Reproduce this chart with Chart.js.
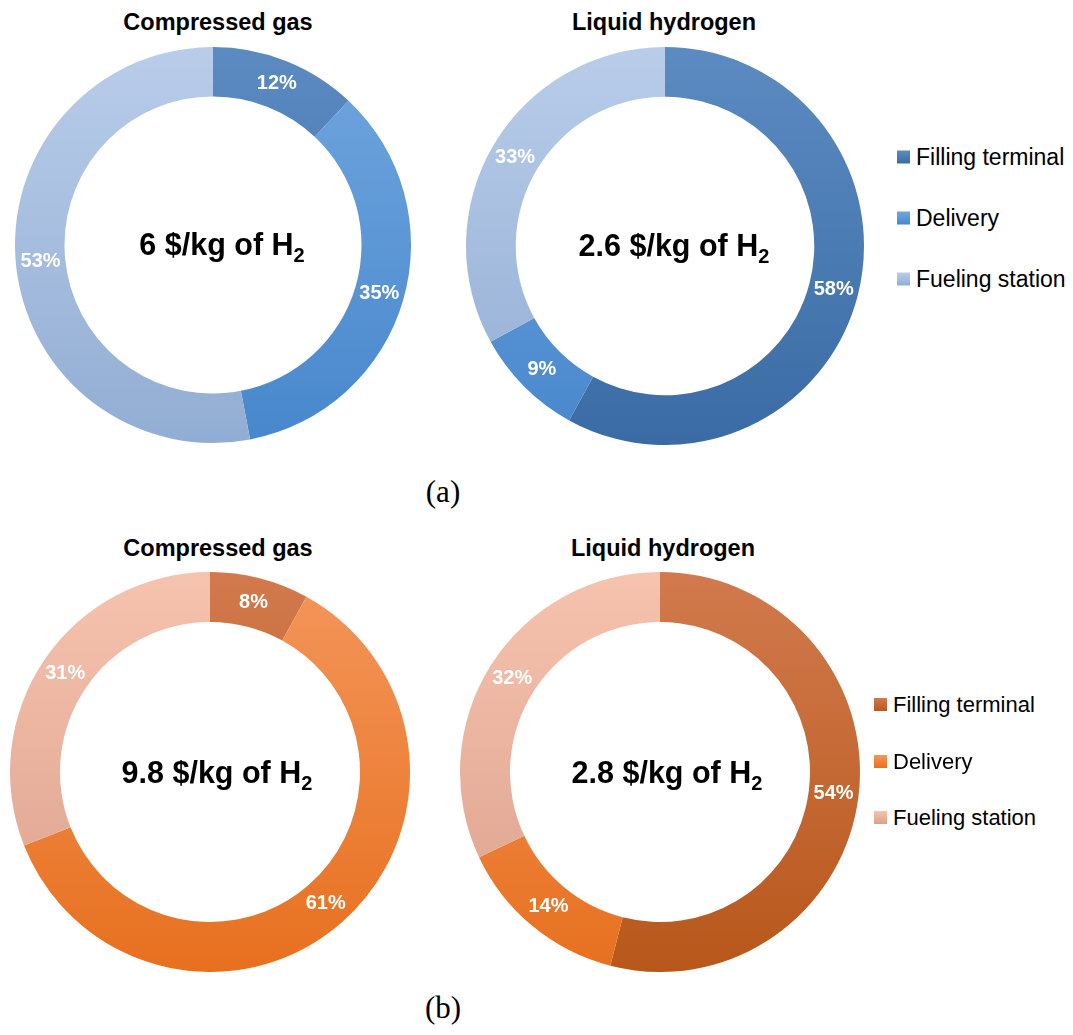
<!DOCTYPE html>
<html>
<head>
<meta charset="utf-8">
<script src="https://cdn.jsdelivr.net/npm/chart.js@4"></script>
<style>
  html, body { margin: 0; padding: 0; background: #fff; }
  #page { position: relative; width: 1073px; height: 1035px; font-family: "Liberation Sans", Arial, sans-serif; }
  .ring { position: absolute; }
  .t { position: absolute; transform: translate(-50%, -50%); white-space: nowrap; color: #000; }
  .title { font-weight: bold; font-size: 23.5px; }
  .center { font-weight: bold; font-size: 30.5px; }
  .center sub { font-size: 20px; vertical-align: -7px; line-height: 0; }
  .panel { font-family: "Liberation Serif", "Times New Roman", serif; font-size: 31px; }
  .legend { position: absolute; color: #000; }
  .legend .row { position: absolute; left: 0; white-space: nowrap; transform: translateY(-50%); }
  .legend .sw { display: inline-block; width: 13px; height: 13px; margin-right: 6px; vertical-align: 1px; }
</style>
</head>
<body>
<div id="page"></div>
<script>
/* cost split of H2 delivery pathways, shares in % */
const categories = ['Filling terminal', 'Delivery', 'Fueling station'];
const chartTitles = ['Compressed gas', 'Liquid hydrogen'];
const panelLabels = ['(a)', '(b)'];

const costA = ['6', '2.6'];
const costB = ['9.8', '2.8'];

const gasA = [12, 35, 53];
const liquidA = [58, 9, 33];
const gasB = [8, 61, 31];
const liquidB = [54, 14, 32];

// [top, bottom] gradient stops per category
const blues = [['#5b8bc1', '#3a6ba4'], ['#70a6de', '#4887cd'], ['#b9cdea', '#92add3']];
const oranges = [['#d27a4d', '#b7571b'], ['#f4965b', '#e7701f'], ['#f6c3af', '#dba08b']];

const page = document.getElementById('page');

function addText(cls, html, x, y) {
  const el = document.createElement('div');
  el.className = 't ' + cls;
  el.style.left = x + 'px';
  el.style.top = y + 'px';
  el.innerHTML = html;
  page.appendChild(el);
}

function addLegend(palette, x, ys, size) {
  const box = document.createElement('div');
  box.className = 'legend';
  box.style.left = x + 'px';
  box.style.top = '0px';
  box.style.fontSize = size + 'px';
  categories.forEach((name, i) => {
    const row = document.createElement('div');
    row.className = 'row';
    row.style.top = ys[i] + 'px';
    row.innerHTML = `<span class="sw" style="background:linear-gradient(${palette[i][0]},${palette[i][1]})"></span>${name}`;
    box.appendChild(row);
  });
  page.appendChild(box);
}

// white bold percentage at the middle of each arc
const arcLabels = {
  id: 'arcLabels',
  afterDatasetsDraw(chart) {
    const ctx = chart.ctx;
    const meta = chart.getDatasetMeta(0);
    const data = chart.data.datasets[0].data;
    ctx.save();
    ctx.font = 'bold 20px "Liberation Sans", Arial, sans-serif';
    ctx.fillStyle = '#fff';
    ctx.textAlign = 'center';
    ctx.textBaseline = 'middle';
    meta.data.forEach((arc, i) => {
      const p = arc.tooltipPosition();
      ctx.fillText(data[i] + '%', p.x, p.y);
    });
    ctx.restore();
  }
};

function buildRing(values, palette, left, top, size) {
  const canvas = document.createElement('canvas');
  canvas.className = 'ring';
  canvas.style.left = left + 'px';
  canvas.style.top = top + 'px';
  canvas.style.width = size + 'px';
  canvas.style.height = size + 'px';
  canvas.width = size;
  canvas.height = size;
  page.appendChild(canvas);

  new Chart(canvas, {
    type: 'doughnut',
    data: {
      labels: categories,
      datasets: [{
        data: values,
        backgroundColor: function(c) {
          const area = c.chart.chartArea;
          const pal = palette[c.dataIndex];
          if (!area) return pal[0];
          const g = c.chart.ctx.createLinearGradient(0, area.top, 0, area.bottom);
          g.addColorStop(0, pal[0]);
          g.addColorStop(1, pal[1]);
          return g;
        },
        borderWidth: 0,
        hoverOffset: 0,
      }]
    },
    options: {
      responsive: false,
      animation: false,
      cutout: '75%',
      layout: { padding: 0 },
      plugins: { legend: { display: false }, tooltip: { enabled: false } }
    },
    plugins: [arcLabels]
  });
}

// (a) upper pair
buildRing(gasA, blues, 15, 47, 396);
buildRing(liquidA, blues, 466, 47, 398);
addText('title', chartTitles[0], 218, 22);
addText('title', chartTitles[1], 664, 22);
addText('center', costA[0] + ' $/kg of H<sub>2</sub>', 222, 244);
addText('center', costA[1] + ' $/kg of H<sub>2</sub>', 674, 245);
addLegend(blues, 897, [157, 218, 279], 23);
addText('panel', panelLabels[0], 443, 492);

// (b) lower pair
buildRing(gasB, oranges, 10, 572, 400);
buildRing(liquidB, oranges, 460, 572, 400);
addText('title', chartTitles[0], 218, 548);
addText('title', chartTitles[1], 663, 548);
addText('center', costB[0] + ' $/kg of H<sub>2</sub>', 217, 772);
addText('center', costB[1] + ' $/kg of H<sub>2</sub>', 667, 772);
addLegend(oranges, 874, [705, 762, 818], 22);
addText('panel', panelLabels[1], 443, 1008);
</script>
</body>
</html>
